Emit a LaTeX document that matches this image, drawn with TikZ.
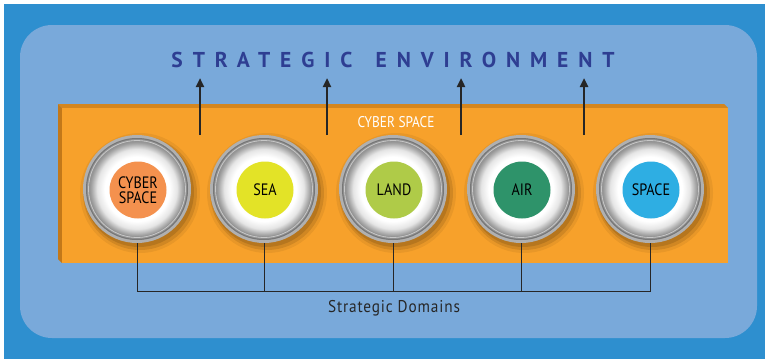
\documentclass[tikz,border=0pt]{standalone}
\usepackage{fontspec}
\setmainfont{PT Sans}
\newfontfamily\titlefont[LetterSpace=46]{PT Sans Bold}
\newfontfamily\lblfont[FakeStretch=0.86]{PT Sans}
\newfontfamily\domfont[FakeStretch=0.9,LetterSpace=5]{PT Sans}
\usetikzlibrary{arrows.meta}
\definecolor{outerblue}{HTML}{2E8FCF}
\definecolor{innerblue}{HTML}{79A9DA}
\definecolor{titleblue}{HTML}{2E3E92}
\definecolor{orangeface}{HTML}{F7A12B}
\definecolor{orangetop}{HTML}{D4861F}
\definecolor{orangeleft}{HTML}{C27819}
\definecolor{cybC}{HTML}{F4914E}
\definecolor{seaC}{HTML}{E3E327}
\definecolor{landC}{HTML}{AFCB48}
\definecolor{airC}{HTML}{2E936A}
\definecolor{spaceC}{HTML}{2EAEE3}
\definecolor{ringA}{HTML}{B0B0B0}
\definecolor{ringB}{HTML}{939393}
\definecolor{ringC}{HTML}{767676}
\definecolor{darkline}{HTML}{262626}
\pgfdeclareradialshading{ringwhite}{\pgfpointorigin}{color(0bp)=(white); color(17bp)=(white); color(21bp)=(black!10); color(24bp)=(black!35); color(25bp)=(black!42); color(50bp)=(black!42)}
\tikzset{
  dom/.style={circle, minimum size=57pt, inner sep=0pt, align=center, font=\lblfont\fontsize{16.5}{15.5}\selectfont, text=black},
  ringnode/.style={circle, minimum size=108pt, inner sep=0pt, fill=ringA},
  uparrow/.style={line width=2.6pt, color=darkline, -{Triangle[width=8pt,length=9pt]}},
  bracket/.style={line width=1pt, color=darkline},
}
\begin{document}
\begin{tikzpicture}[x=1pt,y=-1pt]
\useasboundingbox (0,0) rectangle (765,359);
\fill[white] (0,0) rectangle (765,359);
\fill[outerblue] (4,4) rectangle (765,359);
\fill[innerblue, rounded corners=32pt] (20,25) rectangle (757,338);
% title
\node[text=titleblue, font=\titlefont\fontsize{21.5}{21}\selectfont] (title) at (393,60) {STRATEGIC\hspace{8pt} ENVIRONMENT};
% orange slab
\fill[orangetop] (58,104) -- (724,104) -- (728,108) -- (62,108) -- cycle;
\fill[orangeleft] (58,104) -- (62,108) -- (62,263) -- (58,259) -- cycle;
\fill[orangeface] (62,108) rectangle (728,263);
\node[text=white, font=\lblfont\fontsize{15.5}{15}\selectfont] (cyb) at (396,122) {CYBER SPACE};
% arrows
\foreach \i/\x in {1/200,2/327,3/461,4/584}{
  \coordinate (as\i) at (\x,135);
  \coordinate (ae\i) at (\x,78);
  \draw[uparrow] (as\i) -- (ae\i);
}
% domain circles
\foreach \i/\x/\c/\t in {1/137/cybC/{CYBER\\SPACE},2/264/seaC/{SEA},3/393/landC/{LAND},4/521/airC/{AIR},5/650/spaceC/{SPACE}}{
  \fill[black, opacity=.06] (\x+3,193) circle (60);
  \fill[black, opacity=.10] (\x+3,193) circle (57);
  \fill[black, opacity=.12] (\x+2,192) circle (55);
  \node[ringnode] (r\i) at (\x,189) {};
  \fill[ringB] (\x,189) circle (51);
  \draw[ringC, line width=1pt] (\x,189) circle (50.5);
  \draw[black!22, line width=0.8pt] (\x,189) circle (48.5);
  \shade[shading=ringwhite] (\x,189) circle (47.5);
  \node[dom, fill=\c] (c\i) at (\x+1,190) {\t};
}
% bracket
\coordinate (hb) at (393,291);
\draw[bracket] (r1.south) -- (r1.south |- hb) -- (r5.south |- hb) -- (r5.south);
\foreach \i in {2,3,4}{
  \draw[bracket] (r\i.south) -- (r\i.south |- hb);
}
\node[text=darkline, font=\domfont\fontsize{17}{17}\selectfont] (sd) at (394,308) {Strategic Domains};
\end{tikzpicture}
\end{document}
